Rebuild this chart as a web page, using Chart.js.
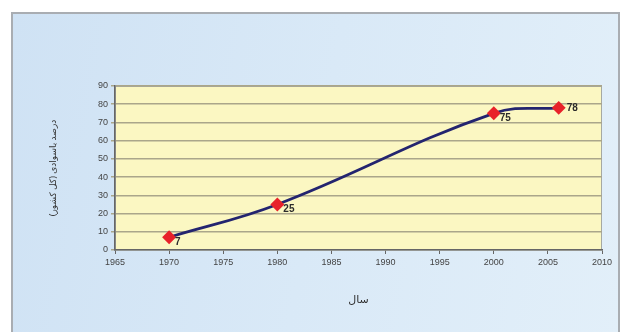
<!DOCTYPE html>
<html>
<head>
<meta charset="utf-8">
<script src="https://cdn.jsdelivr.net/npm/chart.js@4"></script>
<style>
  html, body { margin: 0; padding: 0; background: #fff; }
  #frame {
    position: absolute; left: 11px; top: 12px; width: 609px; height: 330px;
    border: 2px solid #a9adb2; box-sizing: border-box;
    background: linear-gradient(100deg, #cfe2f4 0%, #d9e9f7 50%, #e2eff9 100%);
  }
  #wrap { position: absolute; left: 0; top: 0; width: 623px; height: 332px; }
</style>
</head>
<body>
<div id="frame"></div>
<div id="wrap"><canvas id="chart" width="623" height="332"></canvas></div>
<script>
// values
const years = [1970, 1980, 2000, 2006];
const literacy = [7, 25, 75, 78];
const pointLabels = ['7', '25', '75', '78'];
const xTitle = 'سال';
const yTitle = 'درصد باسوادی (کل کشور)';

const plotBg = {
    id: 'plotBg',
    beforeDraw(chart) {
        const { ctx, chartArea: a } = chart;
        ctx.save();
        ctx.fillStyle = '#fbf7c2';
        ctx.fillRect(a.left, a.top, a.right - a.left, a.bottom - a.top);
        ctx.strokeStyle = '#a6a9a2';
        ctx.lineWidth = 1;
        ctx.strokeRect(a.left + 0.5, a.top + 0.5, a.right - a.left - 1, a.bottom - a.top - 1);
        ctx.restore();
    }
};

const valueLabels = {
    id: 'valueLabels',
    afterDatasetsDraw(chart) {
        const ctx = chart.ctx;
        const meta = chart.getDatasetMeta(0);
        ctx.save();
        ctx.font = 'bold 10px "Liberation Sans", Arial, sans-serif';
        ctx.fillStyle = '#2b2b2b';
        ctx.textBaseline = 'middle';
        meta.data.forEach((pt, i) => {
            const last = i === meta.data.length - 1;
            ctx.fillText(pointLabels[i], pt.x + (last ? 8 : 6), pt.y + (last ? 0 : 5));
        });
        ctx.restore();
    }
};

new Chart(document.getElementById('chart'), {
    type: 'scatter',
    data: {
        datasets: [{
            data: years.map((y, i) => ({ x: y, y: literacy[i] })),
            showLine: true,
            borderColor: '#23246f',
            borderWidth: 2.8,
            tension: 0.4,
            pointStyle: 'rectRot',
            pointRadius: 5,
            pointBackgroundColor: '#e8222a',
            pointBorderColor: '#e8222a'
        }]
    },
    options: {
        responsive: false,
        animation: false,
        events: [],
        layout: { padding: { left: 44, top: 86, right: 21, bottom: 22 } },
        plugins: { legend: { display: false }, tooltip: { enabled: false } },
        scales: {
            x: {
                type: 'linear',
                min: 1965, max: 2010,
                afterFit(s) { s.height = 60; },
                ticks: { stepSize: 5, color: '#444', padding: 3,
                         callback: v => String(v),
                         font: { size: 9, family: '"Liberation Sans", Arial' } },
                grid: { drawOnChartArea: false, tickLength: 4, color: '#666' },
                border: { color: '#666', width: 1.5 },
                title: { display: true, text: xTitle, color: '#333',
                         font: { size: 11, family: '"Noto Sans", "DejaVu Sans"' } }
            },
            y: {
                min: 0, max: 90,
                afterFit(s) { s.width = 71; },
                ticks: { stepSize: 10, color: '#444', padding: 3,
                         font: { size: 9, family: '"Liberation Sans", Arial' } },
                grid: { color: '#aaa68a', lineWidth: 1.5, tickLength: 4 },
                border: { color: '#666', width: 1.5 },
                title: { display: true, text: yTitle, color: '#333',
                         font: { size: 9, family: '"Noto Sans", "DejaVu Sans"' } }
            }
        }
    },
    plugins: [plotBg, valueLabels]
});
</script>
</body>
</html>
